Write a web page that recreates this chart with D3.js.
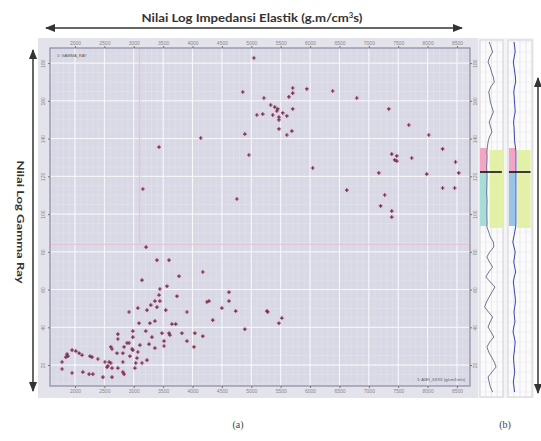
<!DOCTYPE html>
<html>
<head>
<meta charset="utf-8">
<script src="https://cdn.jsdelivr.net/npm/d3@7"></script>
<style>
  body { margin: 0; background: #fff; }
  svg { display: block; }
</style>
</head>
<body>
<div id="chart"></div>
<script>
// crossplot data: elastic impedance vs gamma ray
var elasticImp = [3210,3395,3600,4175,3770,3140,3565,3445,4620,3430,3735,4280,4245,4620,3360,3445,3290,3395,3225,3070,
  2920,4500,4735,3905,3545,4345,3360,3090,3275,3650,3715,4890,2985,3205,3480,3600,3615,3820,4040,4175,
  2730,2985,3310,2730,3905,3515,3515,3105,3260,4025,2885,2920,2610,2630,2835,3360,2970,1950,2015,2070,
  2120,1865,1880,1845,2715,2815,2985,3070,2255,2290,2390,2935,3055,3225,2510,2580,2610,2560,2545,2630,
  1780,3035,3140,1780,2135,1950,2240,2305,2815,2835,3020,2475,2630,2730,2815,5280,5470,5265,5520,
  4140,3430,4890,4960,3155,4755,5045,4855,5215,5705,5705,5640,5945,6385,5330,5400,5450,5435,5535,5605,
  5705,5095,5195,5365,5470,5470,5470,5690,5605,6045,6795,7340,7680,8020,8255,8475,8530,8460,8255,7985,
  7730,7390,7475,7440,7475,7170,7270,7200,7390,7390,6625];
var gammaRay = [82.5,75.6,75.6,69.3,67.1,65.0,61.8,60.3,58.6,57.1,56.5,53.9,53.4,53.9,53.9,53.9,51.8,50.7,49.1,50.2,
  48.1,50.2,48.6,48.1,49.1,43.8,43.3,42.2,42.2,41.7,41.7,39.0,38.0,38.0,36.9,36.9,35.9,36.9,36.9,35.3,
  36.4,34.8,34.8,33.8,32.7,32.7,30.1,30.6,31.1,29.6,31.7,31.7,29.6,28.5,29.6,29.0,28.5,27.9,27.4,26.3,
  25.3,25.8,24.7,24.2,26.3,26.3,27.9,26.9,24.7,24.2,23.2,24.7,23.7,22.6,21.6,21.6,21.1,19.5,18.9,18.4,
  21.6,21.1,21.1,17.9,16.3,15.8,15.2,15.2,16.3,15.2,18.4,13.6,13.6,18.4,21.6,48.1,42.2,48.6,44.9,
  140.3,135.5,142.4,131.3,113.3,108.0,182.7,164.7,161.5,166.8,164.1,162.1,166.3,165.2,157.8,156.7,155.7,154.6,153.6,152.0,
  155.7,152.5,153.0,152.5,151.4,149.9,145.1,144.0,141.9,124.4,161.5,155.7,147.2,141.9,134.5,127.6,121.8,113.8,113.8,121.2,
  129.7,131.8,130.8,128.7,128.1,121.8,110.1,104.3,101.6,98.4,112.7];

var xTicks = [2000,2500,3000,3500,4000,4500,5000,5500,6000,6500,7000,7500,8000,8500];
var yTicks = [20,40,60,80,100,120,140,160,180];
var cutoffEI = 3100;
var cutoffGR = 84;

// well log panel (b)
var logDepth = [1002,1007,1012,1017,1022,1027,1032,1037,1042,1047,1052,1057,1062,1067,1072,1077,1082,1087,1092,1097,
  1102,1107,1112,1117,1122,1127,1132,1137,1142,1147,1152,1157,1162,1167,1172,1177,1182,1187,1192,1197,
  1202,1207,1212,1217,1222,1227,1232,1237,1242,1247,1252,1257,1262,1267,1272,1277,1282,1287,1292,1297,
  1302,1307,1312,1317,1322,1327,1332,1337,1342,1347,1352];
var logGR = [40,48,55,42,35,44,50,58,62,47,38,42,45,52,58,49,40,46,52,41,35,
  32,30,31,30,29,30,31,30,30,29,30,31,30,30,30,31,30,
  38,45,58,60,42,30,41,55,38,25,45,65,52,40,28,20,37,55,44,35,48,60,42,30,38,50,62,70,52,35,40,45,55];
var logEI = [25,28,30,26,22,25,28,31,32,27,24,26,27,29,30,26,23,25,26,27,28,
  31,33,33,33,33,33,33,33,33,33,33,33,33,33,33,33,32,
  28,24,20,25,30,27,24,28,32,26,22,25,27,30,31,28,25,27,29,24,21,26,30,28,26,23,24,26,28,25,22,25,27];
var zoneTop = 1108, zoneMarker = 1132, zoneBase = 1186;

var W = 541, H = 441;
var svg = d3.select("#chart").append("svg").attr("width", W).attr("height", H);

var defs = svg.append("defs");
defs.append("marker").attr("id", "ah").attr("viewBox", "0 0 10 10")
  .attr("refX", 9).attr("refY", 5).attr("markerWidth", 7).attr("markerHeight", 7)
  .attr("orient", "auto-start-reverse")
  .append("path").attr("d", "M0,1 L10,5 L0,9 Z").attr("fill", "#333");

// plot frame
var plot = { left: 50, right: 470, top: 48, bottom: 386 };
var x = d3.scaleLinear().domain([1575, 8721]).range([plot.left, plot.right]);
var y = d3.scaleLinear().domain([8.9, 188]).range([plot.bottom, plot.top]);

svg.append("rect").attr("x", 38).attr("y", 38).attr("width", 440).attr("height", 360).attr("fill", "#e3e3ec");
svg.append("rect").attr("x", plot.left).attr("y", plot.top)
  .attr("width", plot.right - plot.left).attr("height", plot.bottom - plot.top)
  .attr("fill", "#d9d9e6");

// minor grid
var g = svg.append("g");
g.selectAll("line.mx").data(d3.range(1600, 8700, 100)).join("line")
  .attr("x1", d => x(d)).attr("x2", d => x(d)).attr("y1", plot.top).attr("y2", plot.bottom)
  .attr("stroke", "#fff").attr("stroke-opacity", 0.25).attr("stroke-width", 0.6);
g.selectAll("line.my").data(d3.range(10, 188, 5)).join("line")
  .attr("y1", d => y(d)).attr("y2", d => y(d)).attr("x1", plot.left).attr("x2", plot.right)
  .attr("stroke", "#fff").attr("stroke-opacity", 0.25).attr("stroke-width", 0.6);
// major grid
g.selectAll("line.gx").data(xTicks).join("line")
  .attr("x1", d => x(d)).attr("x2", d => x(d)).attr("y1", plot.top).attr("y2", plot.bottom)
  .attr("stroke", "#fff").attr("stroke-opacity", 0.8);
g.selectAll("line.gy").data(yTicks).join("line")
  .attr("y1", d => y(d)).attr("y2", d => y(d)).attr("x1", plot.left).attr("x2", plot.right)
  .attr("stroke", "#fff").attr("stroke-opacity", 0.8);

// cutoff lines
svg.append("line").attr("x1", x(cutoffEI)).attr("x2", x(cutoffEI)).attr("y1", plot.top).attr("y2", y(cutoffGR))
  .attr("stroke", "#ecc0d2").attr("stroke-width", 1.2);
svg.append("line").attr("x1", plot.left).attr("x2", plot.right).attr("y1", y(cutoffGR)).attr("y2", y(cutoffGR))
  .attr("stroke", "#e6c0d2").attr("stroke-width", 1.2);

svg.append("rect").attr("x", plot.left).attr("y", plot.top)
  .attr("width", plot.right - plot.left).attr("height", plot.bottom - plot.top)
  .attr("fill", "none").attr("stroke", "#8a8aa0").attr("stroke-width", 1.2);

// axes (tick labels tiny, both sides)
var fmt = d3.format("d");
function styleAxis(sel) {
  sel.select(".domain").remove();
  sel.selectAll("line").attr("stroke", "#777");
  sel.selectAll("text").attr("fill", "#888").style("font-size", "5px").style("font-family", "Liberation Sans");
}
svg.append("g").attr("transform", "translate(0," + plot.top + ")")
  .call(d3.axisTop(x).tickValues(xTicks).tickFormat(fmt).tickSize(2).tickPadding(1)).call(styleAxis);
svg.append("g").attr("transform", "translate(0," + plot.bottom + ")")
  .call(d3.axisBottom(x).tickValues(xTicks).tickFormat(fmt).tickSize(2).tickPadding(1)).call(styleAxis);
var ayl = svg.append("g").attr("transform", "translate(" + plot.left + ",0)")
  .call(d3.axisLeft(y).tickValues(yTicks).tickFormat(fmt).tickSize(2).tickPadding(1)).call(styleAxis);
ayl.selectAll("text").attr("transform", "rotate(-90)").attr("x", 0).attr("dx", 0)
  .attr("y", -5).attr("text-anchor", "middle").attr("dy", 0);
var ayr = svg.append("g").attr("transform", "translate(" + plot.right + ",0)")
  .call(d3.axisRight(y).tickValues(yTicks).tickFormat(fmt).tickSize(2).tickPadding(1)).call(styleAxis);
ayr.selectAll("text").attr("transform", "rotate(-90)").attr("x", 0).attr("y", 7)
  .attr("text-anchor", "middle").attr("dy", 0);

// legend labels
svg.append("text").attr("x", 57).attr("y", 57).text("1: GAMMA_RAY")
  .attr("fill", "#555").style("font-size", "4px").style("font-family", "Liberation Sans");
svg.append("text").attr("x", 465).attr("y", 381).attr("text-anchor", "end").text("1: AI/EI_XXXX (g/cm3.m/s)")
  .attr("fill", "#555").style("font-size", "4px").style("font-family", "Liberation Sans");

// points
var pts = elasticImp.map((d, i) => [d, gammaRay[i]]);
svg.append("g").selectAll("circle").data(pts).join("circle")
  .attr("cx", d => x(d[0])).attr("cy", d => y(d[1])).attr("r", 3)
  .attr("fill", "#f2c4d6").attr("opacity", 0.35);
svg.append("g").selectAll("path").data(pts).join("path")
  .attr("transform", d => "translate(" + x(d[0]) + "," + y(d[1]) + ")")
  .attr("d", d3.symbol(d3.symbolCross).size(7))
  .attr("fill", "#6a2e4c");

// panel (b): well logs
var dy = d3.scaleLinear().domain([1000, 1357]).range([40, 397]);
var t1 = d3.scaleLinear().domain([0, 100]).range([480, 503]);
var t2 = d3.scaleLinear().domain([0, 100]).range([508, 532]);
svg.append("rect").attr("x", 478).attr("y", 38).attr("width", 56).attr("height", 360).attr("fill", "#f4f4f6");
[t1, t2].forEach(function (t) {
  svg.append("rect").attr("x", t(0)).attr("y", dy(1000)).attr("width", t(100) - t(0)).attr("height", dy(1357) - dy(1000))
    .attr("fill", "#fbfbfc").attr("stroke", "#c8c8d0").attr("stroke-width", 0.8);
  svg.append("g").selectAll("line").data([25, 50, 75]).join("line")
    .attr("x1", d => t(d)).attr("x2", d => t(d)).attr("y1", dy(1000)).attr("y2", dy(1357))
    .attr("stroke", "#dcdce4").attr("stroke-width", 0.6);
  svg.append("g").selectAll("line").data(logDepth.filter((d, i) => i % 2 === 0)).join("line")
    .attr("x1", t(0)).attr("x2", t(100)).attr("y1", d => dy(d)).attr("y2", d => dy(d))
    .attr("stroke", "#e4e4ea").attr("stroke-width", 0.5);
});
// zone fills
svg.append("rect").attr("x", t1(0)).attr("y", dy(zoneTop)).attr("width", t1(30) - t1(0)).attr("height", dy(zoneMarker) - dy(zoneTop)).attr("fill", "#f3a6c4");
svg.append("rect").attr("x", t1(0)).attr("y", dy(zoneMarker)).attr("width", t1(30) - t1(0)).attr("height", dy(zoneBase) - dy(zoneMarker)).attr("fill", "#a8dcd8");
svg.append("rect").attr("x", t1(42)).attr("y", dy(zoneTop + 2)).attr("width", t1(100) - t1(42)).attr("height", dy(zoneBase + 2) - dy(zoneTop + 2)).attr("fill", "#e2f0a8");
svg.append("rect").attr("x", t2(4)).attr("y", dy(zoneTop)).attr("width", t2(30) - t2(4)).attr("height", dy(zoneMarker) - dy(zoneTop)).attr("fill", "#f3a6c4");
svg.append("rect").attr("x", t2(4)).attr("y", dy(zoneMarker)).attr("width", t2(30) - t2(4)).attr("height", dy(zoneBase) - dy(zoneMarker)).attr("fill", "#98c4e8");
svg.append("rect").attr("x", t2(38)).attr("y", dy(zoneTop + 2)).attr("width", t2(94) - t2(38)).attr("height", dy(zoneBase + 2) - dy(zoneTop + 2)).attr("fill", "#e2f0a8");

// curves
svg.append("path").datum(logGR).attr("fill", "none").attr("stroke", "#5a6a8a").attr("stroke-width", 0.9)
  .attr("d", d3.line().x(d => t1(d)).y((d, i) => dy(logDepth[i])));
svg.append("path").datum(logEI).attr("fill", "none").attr("stroke", "#3a4ab0").attr("stroke-width", 1)
  .attr("d", d3.line().x(d => t2(d)).y((d, i) => dy(logDepth[i])));
// marker line
svg.append("line").attr("x1", t1(0)).attr("x2", t1(95)).attr("y1", dy(zoneMarker)).attr("y2", dy(zoneMarker)).attr("stroke", "#111").attr("stroke-width", 1.6);
svg.append("line").attr("x1", t2(4)).attr("x2", t2(94)).attr("y1", dy(zoneMarker)).attr("y2", dy(zoneMarker)).attr("stroke", "#111").attr("stroke-width", 1.6);

// arrows
function arrow(x1, y1, x2, y2) {
  svg.append("line").attr("x1", x1).attr("y1", y1).attr("x2", x2).attr("y2", y2)
    .attr("stroke", "#333").attr("stroke-width", 1.5)
    .attr("marker-start", "url(#ah)").attr("marker-end", "url(#ah)");
}
arrow(46, 28, 462, 28);
arrow(33, 50, 33, 391);
arrow(538, 78, 538, 393);

// titles
svg.append("text").attr("x", 252).attr("y", 22).attr("text-anchor", "middle")
  .attr("textLength", 221).attr("lengthAdjust", "spacingAndGlyphs")
  .style("font-family", "Lato").style("font-weight", "bold").style("font-size", "12px").attr("fill", "#333")
  .html("Nilai Log Impedansi Elastik (g.m/cm<tspan baseline-shift='super' font-size='7px'>3</tspan>s)");
svg.append("text").attr("transform", "translate(17,222) rotate(90)").attr("text-anchor", "middle")
  .attr("textLength", 123).attr("lengthAdjust", "spacingAndGlyphs")
  .style("font-family", "Lato").style("font-weight", "bold").style("font-size", "10px").attr("fill", "#333")
  .text("Nilai Log Gamma Ray");
svg.append("text").attr("x", 238).attr("y", 428).attr("text-anchor", "middle")
  .style("font-family", "Liberation Serif").style("font-size", "10px").attr("fill", "#444").text("(a)");
svg.append("text").attr("x", 505).attr("y", 428).attr("text-anchor", "middle")
  .style("font-family", "Liberation Serif").style("font-size", "10px").attr("fill", "#444").text("(b)");
</script>
</body>
</html>
